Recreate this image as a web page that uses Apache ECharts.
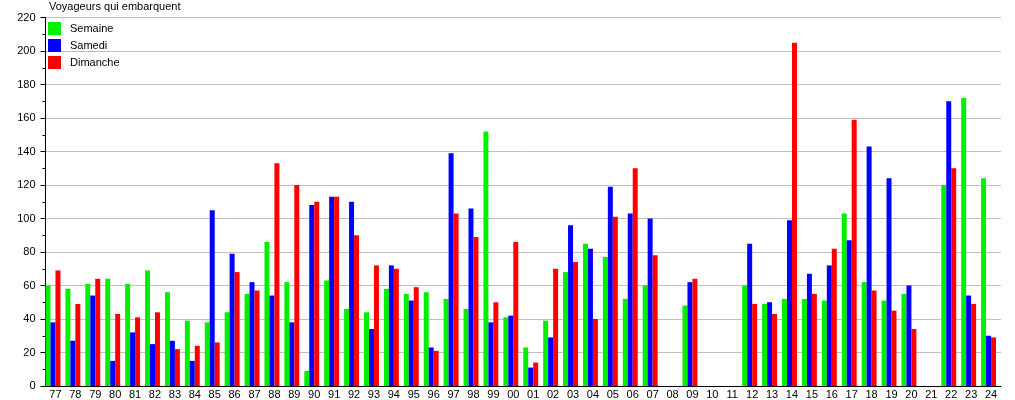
<!DOCTYPE html>
<html>
<head>
<meta charset="utf-8">
<script src="https://cdn.jsdelivr.net/npm/echarts@6/dist/echarts.min.js"></script>
<style>html,body{margin:0;padding:0;background:#fff}#c{width:1015px;height:400px}</style>
</head>
<body>
<div id="c"></div>
<script>
const categories = ['77','78','79','80','81','82','83','84','85','86','87','88','89','90','91','92','93','94','95','96','97','98','99','00','01','02','03','04','05','06','07','08','09','10','11','12','13','14','15','16','17','18','19','20','21','22','23','24'];
const semaine  = [60,58,61,64,61,69,56,39,38,44,55,86,62,9,63,46,44,58,55,56,52,46,152,41,23,39,68,85,77,52,60,null,48,null,null,60,49,52,52,51,103,62,51,55,null,120,172,124];
const samedi   = [38,27,54,15,32,25,27,15,105,79,62,54,38,108,113,110,34,72,51,23,139,106,38,42,11,29,96,82,119,103,100,null,62,null,null,85,50,99,67,72,87,143,124,60,null,170,54,30];
const dimanche = [69,49,64,43,41,44,22,24,26,68,57,133,120,110,113,90,72,70,59,21,103,89,50,86,14,70,74,40,101,130,78,null,64,null,null,49,43,205,55,82,159,57,45,34,null,130,49,29];
const seriesNames = ['Semaine','Samedi','Dimanche'];
const yTicks = {min:0, max:220, interval:20};

const font = 'Liberation Sans, Arial, sans-serif';
const chart = echarts.init(document.getElementById('c'), null, {renderer:'canvas'});
chart.setOption({
  animation:false,
  backgroundColor:'#fff',
  title:{text:'Voyageurs qui embarquent', left:49, top:1, padding:0,
    textStyle:{fontFamily:font, fontSize:11, fontWeight:'normal', color:'#000'}},
  legend:{data:seriesNames, orient:'vertical', left:48, top:22, padding:0, itemWidth:13, itemHeight:13, itemGap:4,
    icon:'rect', textStyle:{fontFamily:font, fontSize:11, color:'#000', padding:[0,0,0,4]}},
  grid:{left:45.5, right:14, top:17.5, bottom:12.7, containLabel:false},
  xAxis:{type:'category', data:categories, boundaryGap:true,
    axisLine:{lineStyle:{color:'#000', width:1}},
    axisTick:{show:false},
    axisLabel:{fontFamily:font, fontSize:11, color:'#000', margin:3, interval:0}},
  yAxis:{type:'value', min:yTicks.min, max:yTicks.max, interval:yTicks.interval,
    axisLine:{show:true, lineStyle:{color:'#000', width:1}},
    axisTick:{show:true, length:5, lineStyle:{color:'#000'}},
    minorTick:{show:true, splitNumber:2, length:3, lineStyle:{color:'#000'}},
    splitLine:{show:true, lineStyle:{color:'#c0c0c0', width:1}},
    axisLabel:{fontFamily:font, fontSize:11, color:'#000', margin:10}},
  series:[
    {name:seriesNames[0], type:'bar', data:semaine, itemStyle:{color:'#00f000'}, barGap:'0%', barCategoryGap:'0%'},
    {name:seriesNames[1], type:'bar', data:samedi, itemStyle:{color:'#0000ff'}, barGap:'0%', barCategoryGap:'0%'},
    {name:seriesNames[2], type:'bar', data:dimanche, itemStyle:{color:'#ff0000'}, barGap:'0%', barCategoryGap:'0%'},
    {name:'_gap', type:'bar', data:categories.map(()=>null), barGap:'0%', barCategoryGap:'0%', silent:true}
  ]
});
</script>
</body>
</html>
